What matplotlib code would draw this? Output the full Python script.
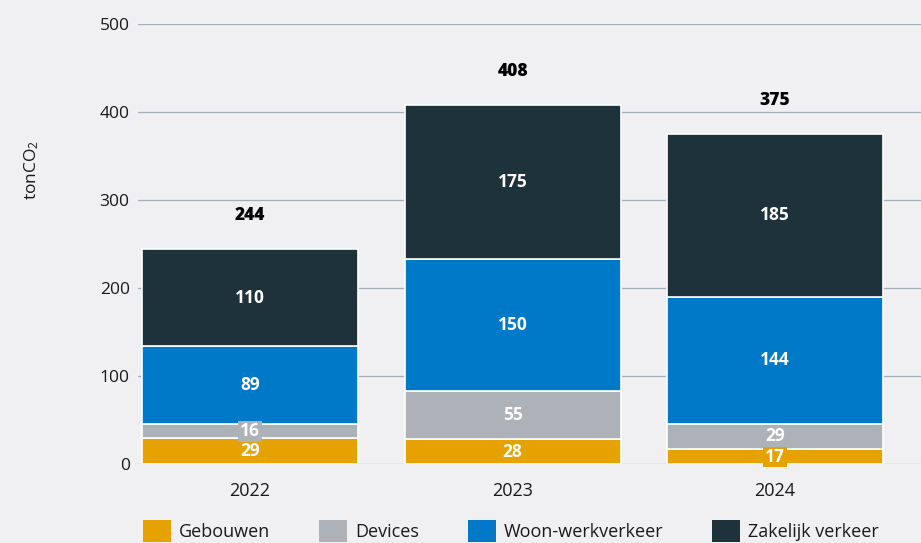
import matplotlib
matplotlib.use("Agg")
import matplotlib.pyplot as plt
import numpy as np
from matplotlib.patches import Patch

plt.rcParams['font.family'] = ['Open Sans', 'DejaVu Sans']
plt.rcParams['mathtext.default'] = 'regular'

years = ["2022", "2023", "2024"]
series_names = ["Gebouwen", "Devices", "Woon-werkverkeer", "Zakelijk verkeer"]
gebouwen = [29, 28, 17]
devices = [16, 55, 29]
woonwerk = [89, 150, 144]
zakelijk = [110, 175, 185]
totals = [244, 408, 375]
yticks = [0, 100, 200, 300, 400, 500]

colors = ["#e5a200", "#adb1b8", "#0079c9", "#1d323b"]
bg = "#f0f0f2"

fig = plt.figure(figsize=(9.21, 5.43), dpi=100, facecolor=bg)
ax = fig.add_axes([138/921, 1-464/543, 1-138/921, 440/543])
ax.set_facecolor(bg)

x = np.arange(len(years))
data = [gebouwen, devices, woonwerk, zakelijk]
bottom = np.zeros(len(years))
width = 0.823
for vals, col, name in zip(data, colors, series_names):
    vals = np.array(vals, dtype=float)
    ax.bar(x, vals, width, bottom=bottom, color=col, edgecolor="white",
           linewidth=1.2, zorder=3, label=name)
    for xi, v, b in zip(x, vals, bottom):
        ax.text(xi, b + v/2, f"{int(v)}", ha="center", va="center",
                color="white", fontsize=12.5, fontweight="bold", zorder=5,
                bbox=dict(boxstyle="square,pad=0.1", fc=col, ec="none"))
    bottom = bottom + vals

for xi, t in zip(x, totals):
    ax.annotate(f"{t}", xy=(xi, t), xytext=(0, 24), textcoords="offset points",
                ha="center", va="center", fontsize=12.5, fontweight="heavy",
                color="black", zorder=5)

ax.set_ylim(0, 500)
ax.set_xlim(-0.427, 2.556)
ax.set_yticks(yticks)
ax.set_yticklabels([str(v) for v in yticks])
ax.set_xticks(x)
ax.set_xticklabels(years)
ax.tick_params(axis="y", length=0, pad=6, labelsize=12.5, labelcolor="#1a1a1a")
ax.tick_params(axis="x", length=0, pad=13, labelsize=13, labelcolor="#1a1a1a")
ax.yaxis.grid(True, color="#a3adba", linewidth=0.9, zorder=0)
ax.set_axisbelow(True)
for s in ax.spines.values():
    s.set_visible(False)

fig.text(32/921, 1-170/543, "tonCO$_2$", rotation=90, ha="center", va="center",
         fontsize=12.5, color="#1a1a1a")

handles = [Patch(facecolor=c, edgecolor="none") for c in colors]
fig.legend(handles, series_names, loc="center left",
           bbox_to_anchor=(143/921, 1-531/543), ncol=4, frameon=False,
           fontsize=13, handlelength=1.55, handleheight=1.55,
           handletextpad=0.45, columnspacing=2.7, borderpad=0,
           borderaxespad=0, labelcolor="#1a1a1a")

fig.savefig("out.png", dpi=100, facecolor=bg)
